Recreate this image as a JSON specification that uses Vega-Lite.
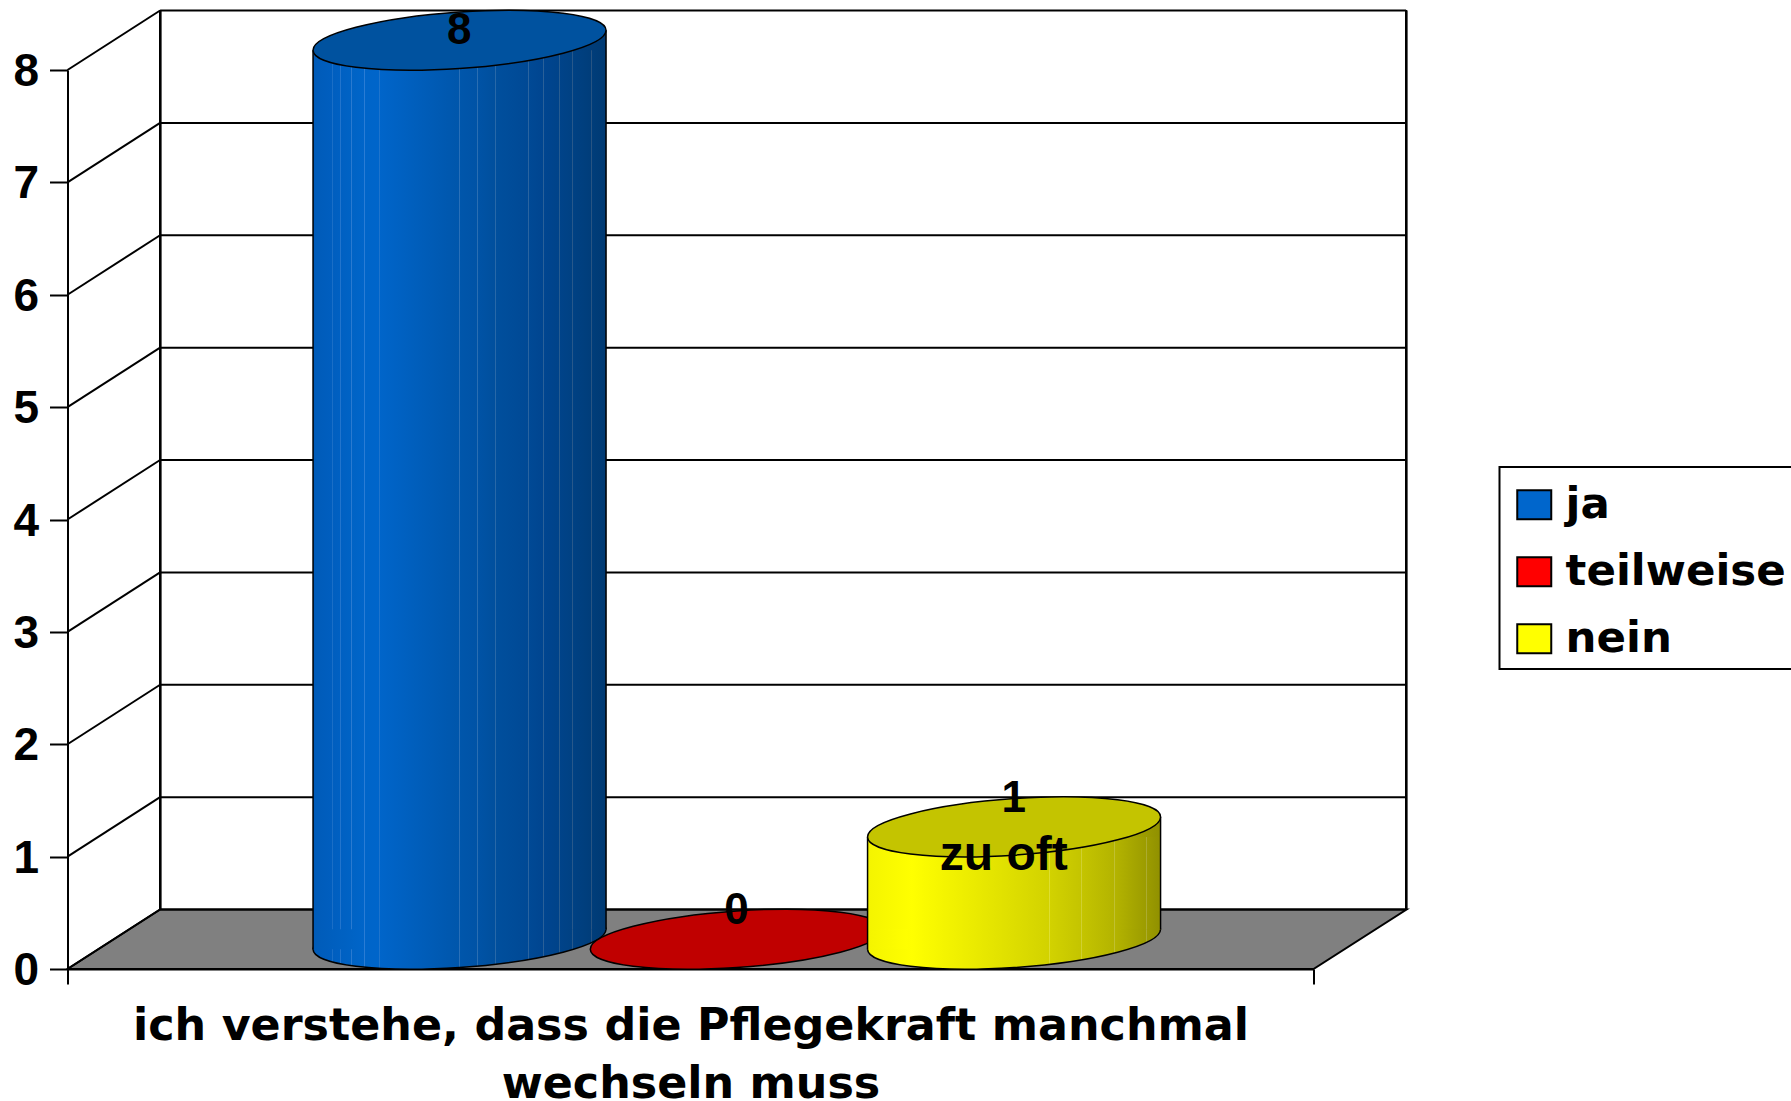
{
"$schema":"https://vega.github.io/schema/vega-lite/v6.json",
"autosize":{"type":"none"},
"width":1246,"height":899,
"padding":{"left":67.5,"top":70,"right":477.5,"bottom":132},
"background":"white",
"config":{"view":{"stroke":null},"legend":{"strokeWidth":2}},
"data":{"values":[{"antwort":"ja","wert":8},{"antwort":"teilweise","wert":0},{"antwort":"nein","wert":1,"anmerkung":"zu oft"}]},
"encoding":{"y":{"field":"wert","type":"quantitative","scale":{"domain":[0,8],"nice":false,"zero":false},"axis":{"title":null,"values":[0,1,2,3,4,5,6,7,8],"grid":false,"domainColor":"#000","domainWidth":2,"tickColor":"#000","tickWidth":2,"tickSize":18,"labelFont":"Liberation Sans","labelFontWeight":"bold","labelFontSize":46,"labelColor":"#000","labelPadding":11,"labelOffset":1.5}}},
"resolve":{"scale":{"x":"independent"},"axis":{"x":"independent"}},
"layer":[
{"data":{"values":[{"wert":0},{"wert":1},{"wert":2},{"wert":3},{"wert":4},{"wert":5},{"wert":6},{"wert":7},{"wert":8}]},
"encoding":{"x":{"datum":0,"type":"quantitative","scale":{"domain":[0,1],"nice":false,"zero":false},"axis":{"values":[0,1],"labels":false,"grid":false,"domainColor":"#000","domainWidth":2,"tickColor":"#000","tickWidth":2,"tickSize":15,"title":["ich verstehe, dass die Pflegekraft manchmal","wechseln muss"],"titleFont":"DejaVu Sans","titleFontWeight":"bold","titleFontSize":44.4,"titleColor":"#000","titleLineHeight":58,"titlePadding":19}}},
"layer":[
{"data":{"values":[{"wert":0}]},"mark":{"type":"point","shape":"M0 0 L1246 0 L1339 -59.5 L92.6 -59.5 Z","size":4,"filled":true,"fill":"#808080","stroke":"#000","strokeWidth":2,"opacity":1}},
{"mark":{"type":"rule","stroke":"#000","strokeWidth":2,"xOffset":0,"x2Offset":92.6,"y2Offset":-59.5},"encoding":{"x2":{"datum":0},"y2":{"field":"wert"}}},
{"mark":{"type":"rule","stroke":"#000","strokeWidth":2,"xOffset":92.6,"x2Offset":92.6,"yOffset":-59.5},"encoding":{"x2":{"datum":1}}},
{"mark":{"type":"rule","stroke":"#000","strokeWidth":2,"xOffset":92.6,"yOffset":-59.5,"y2Offset":-59.5},"encoding":{"y":{"datum":8},"y2":{"datum":0}}},
{"mark":{"type":"rule","stroke":"#000","strokeWidth":2,"xOffset":92.6,"yOffset":-59.5,"y2Offset":-59.5},"encoding":{"x":{"datum":1},"y":{"datum":8},"y2":{"datum":0}}}
]},
{"encoding":{"x":{"field":"antwort","type":"nominal","sort":null,"scale":{"type":"band","domain":["ja","teilweise","nein"],"paddingInner":0,"paddingOuter":0.747},"axis":null}},
"layer":[
{"transform":[{"filter":"datum.antwort==='ja'"}],"mark":{"type":"point","shape":"M146.5 -10 C146.5 5.6 80.9 22.8 0 28.3 C-80.9 33.8 -146.5 25.6 -146.5 10 C-146.5 -5.6 -80.9 -22.8 0 -28.3 C80.9 -33.8 146.5 -25.6 146.5 -10 Z","size":4,"filled":true,"opacity":1,"stroke":"#000","strokeWidth":1.5,"xOffset":46.3,"yOffset":-29.75,"fill":{"gradient":"linear","x1":0,"y1":0,"x2":1,"y2":0,"stops":[{"offset":0,"color":"#005bb8"},{"offset":0.064,"color":"#005ebf"},{"offset":0.064,"color":"#1a6ec6"},{"offset":0.067,"color":"#1a6ec6"},{"offset":0.067,"color":"#005ebf"},{"offset":0.092,"color":"#0060c2"},{"offset":0.092,"color":"#2274cc"},{"offset":0.095,"color":"#2274cc"},{"offset":0.095,"color":"#0060c2"},{"offset":0.131,"color":"#0063c5"},{"offset":0.131,"color":"#2a7ad0"},{"offset":0.134,"color":"#2a7ad0"},{"offset":0.134,"color":"#0063c5"},{"offset":0.173,"color":"#0065c9"},{"offset":0.173,"color":"#2a7cd4"},{"offset":0.176,"color":"#2a7cd4"},{"offset":0.176,"color":"#0065c9"},{"offset":0.225,"color":"#0065ca"},{"offset":0.225,"color":"#1f74cc"},{"offset":0.228,"color":"#1f74cc"},{"offset":0.228,"color":"#0065ca"},{"offset":0.498,"color":"#0056ab"},{"offset":0.498,"color":"#2a70b8"},{"offset":0.501,"color":"#2a70b8"},{"offset":0.501,"color":"#0056ab"},{"offset":0.56,"color":"#0053a6"},{"offset":0.56,"color":"#2a6eb2"},{"offset":0.563,"color":"#2a6eb2"},{"offset":0.563,"color":"#0053a6"},{"offset":0.621,"color":"#004f9d"},{"offset":0.621,"color":"#2768a8"},{"offset":0.624,"color":"#2768a8"},{"offset":0.624,"color":"#004f9d"},{"offset":0.734,"color":"#004995"},{"offset":0.734,"color":"#2a64a0"},{"offset":0.737,"color":"#2a64a0"},{"offset":0.737,"color":"#004995"},{"offset":0.786,"color":"#004590"},{"offset":0.786,"color":"#2a6098"},{"offset":0.789,"color":"#2a6098"},{"offset":0.789,"color":"#004590"},{"offset":0.84,"color":"#004389"},{"offset":0.84,"color":"#285c90"},{"offset":0.843,"color":"#285c90"},{"offset":0.843,"color":"#004389"},{"offset":0.885,"color":"#004183"},{"offset":0.885,"color":"#28588a"},{"offset":0.888,"color":"#28588a"},{"offset":0.888,"color":"#004183"},{"offset":0.95,"color":"#003d7a"},{"offset":0.95,"color":"#285482"},{"offset":0.953,"color":"#285482"},{"offset":0.953,"color":"#003d7a"},{"offset":1,"color":"#003a73"}]}},"encoding":{"y":{"datum":0}}},
{"transform":[{"filter":"datum.antwort==='ja'"}],"mark":{"type":"bar","size":40,"xOffset":-80.2,"yOffset":-19.75,"y2Offset":-19.75,"fill":{"gradient":"linear","x1":0,"y1":0,"x2":1,"y2":0,"stops":[{"offset":0,"color":"#005bb8"},{"offset":1,"color":"#0063c5"}]}},"encoding":{"y2":{"datum":0}}},
{"transform":[{"filter":"datum.antwort==='ja'"}],"mark":{"type":"bar","size":40,"xOffset":172.8,"yOffset":-39.75,"y2Offset":-39.75,"fill":{"gradient":"linear","x1":0,"y1":0,"x2":1,"y2":0,"stops":[{"offset":0,"color":"#004183"},{"offset":1,"color":"#003a73"}]}},"encoding":{"y2":{"datum":0}}},
{"transform":[{"filter":"datum.antwort==='ja'"}],"mark":{"type":"bar","size":293,"xOffset":46.3,"yOffset":-19.75,"y2Offset":-39.75,"fill":{"gradient":"linear","x1":0,"y1":0,"x2":1,"y2":0,"stops":[{"offset":0,"color":"#005bb8"},{"offset":0.064,"color":"#005ebf"},{"offset":0.064,"color":"#1a6ec6"},{"offset":0.067,"color":"#1a6ec6"},{"offset":0.067,"color":"#005ebf"},{"offset":0.092,"color":"#0060c2"},{"offset":0.092,"color":"#2274cc"},{"offset":0.095,"color":"#2274cc"},{"offset":0.095,"color":"#0060c2"},{"offset":0.131,"color":"#0063c5"},{"offset":0.131,"color":"#2a7ad0"},{"offset":0.134,"color":"#2a7ad0"},{"offset":0.134,"color":"#0063c5"},{"offset":0.173,"color":"#0065c9"},{"offset":0.173,"color":"#2a7cd4"},{"offset":0.176,"color":"#2a7cd4"},{"offset":0.176,"color":"#0065c9"},{"offset":0.225,"color":"#0065ca"},{"offset":0.225,"color":"#1f74cc"},{"offset":0.228,"color":"#1f74cc"},{"offset":0.228,"color":"#0065ca"},{"offset":0.498,"color":"#0056ab"},{"offset":0.498,"color":"#2a70b8"},{"offset":0.501,"color":"#2a70b8"},{"offset":0.501,"color":"#0056ab"},{"offset":0.56,"color":"#0053a6"},{"offset":0.56,"color":"#2a6eb2"},{"offset":0.563,"color":"#2a6eb2"},{"offset":0.563,"color":"#0053a6"},{"offset":0.621,"color":"#004f9d"},{"offset":0.621,"color":"#2768a8"},{"offset":0.624,"color":"#2768a8"},{"offset":0.624,"color":"#004f9d"},{"offset":0.734,"color":"#004995"},{"offset":0.734,"color":"#2a64a0"},{"offset":0.737,"color":"#2a64a0"},{"offset":0.737,"color":"#004995"},{"offset":0.786,"color":"#004590"},{"offset":0.786,"color":"#2a6098"},{"offset":0.789,"color":"#2a6098"},{"offset":0.789,"color":"#004590"},{"offset":0.84,"color":"#004389"},{"offset":0.84,"color":"#285c90"},{"offset":0.843,"color":"#285c90"},{"offset":0.843,"color":"#004389"},{"offset":0.885,"color":"#004183"},{"offset":0.885,"color":"#28588a"},{"offset":0.888,"color":"#28588a"},{"offset":0.888,"color":"#004183"},{"offset":0.95,"color":"#003d7a"},{"offset":0.95,"color":"#285482"},{"offset":0.953,"color":"#285482"},{"offset":0.953,"color":"#003d7a"},{"offset":1,"color":"#003a73"}]}},"encoding":{"y2":{"datum":0}}},
{"transform":[{"filter":"datum.antwort==='ja'"}],"mark":{"type":"rule","stroke":"#000","strokeWidth":1.5,"xOffset":-100.2,"yOffset":-19.75,"y2Offset":-19.75},"encoding":{"y2":{"datum":0}}},
{"transform":[{"filter":"datum.antwort==='ja'"}],"mark":{"type":"rule","stroke":"#000","strokeWidth":1.5,"xOffset":192.8,"yOffset":-39.75,"y2Offset":-39.75},"encoding":{"y2":{"datum":0}}},
{"transform":[{"filter":"datum.antwort==='ja'"}],"mark":{"type":"point","shape":"M146.5 -10 C146.5 5.6 80.9 22.8 0 28.3 C-80.9 33.8 -146.5 25.6 -146.5 10 C-146.5 -5.6 -80.9 -22.8 0 -28.3 C80.9 -33.8 146.5 -25.6 146.5 -10 Z","size":4,"filled":true,"opacity":1,"stroke":"#000","strokeWidth":1.5,"xOffset":46.3,"yOffset":-29.75,"fill":"#00529f"}},
{"transform":[{"filter":"datum.antwort==='teilweise'"}],"mark":{"type":"point","shape":"M146.5 -10 C146.5 5.6 80.9 22.8 0 28.3 C-80.9 33.8 -146.5 25.6 -146.5 10 C-146.5 -5.6 -80.9 -22.8 0 -28.3 C80.9 -33.8 146.5 -25.6 146.5 -10 Z","size":4,"filled":true,"opacity":1,"stroke":"#000","strokeWidth":1.5,"xOffset":46.3,"yOffset":-29.75,"fill":"#c00000"}},
{"transform":[{"filter":"datum.antwort==='nein'"}],"mark":{"type":"point","shape":"M146.5 -10 C146.5 5.6 80.9 22.8 0 28.3 C-80.9 33.8 -146.5 25.6 -146.5 10 C-146.5 -5.6 -80.9 -22.8 0 -28.3 C80.9 -33.8 146.5 -25.6 146.5 -10 Z","size":4,"filled":true,"opacity":1,"stroke":"#000","strokeWidth":1.5,"xOffset":46.3,"yOffset":-29.75,"fill":{"gradient":"linear","x1":0,"y1":0,"x2":1,"y2":0,"stops":[{"offset":0,"color":"#f4f400"},{"offset":0.15,"color":"#ffff00"},{"offset":0.6,"color":"#d4d400"},{"offset":0.62,"color":"#d2d200"},{"offset":0.62,"color":"#dede30"},{"offset":0.623,"color":"#dede30"},{"offset":0.623,"color":"#d2d200"},{"offset":0.73,"color":"#c4c400"},{"offset":0.73,"color":"#d0d030"},{"offset":0.733,"color":"#d0d030"},{"offset":0.733,"color":"#c4c400"},{"offset":0.84,"color":"#b4b400"},{"offset":0.84,"color":"#c0c030"},{"offset":0.843,"color":"#c0c030"},{"offset":0.843,"color":"#b4b400"},{"offset":0.95,"color":"#9c9c00"},{"offset":0.95,"color":"#abab30"},{"offset":0.953,"color":"#abab30"},{"offset":0.953,"color":"#9c9c00"},{"offset":1,"color":"#909000"}]}},"encoding":{"y":{"datum":0}}},
{"transform":[{"filter":"datum.antwort==='nein'"}],"mark":{"type":"bar","size":40,"xOffset":-80.2,"yOffset":-19.75,"y2Offset":-19.75,"fill":{"gradient":"linear","x1":0,"y1":0,"x2":1,"y2":0,"stops":[{"offset":0,"color":"#f4f400"},{"offset":1,"color":"#ffff00"}]}},"encoding":{"y2":{"datum":0}}},
{"transform":[{"filter":"datum.antwort==='nein'"}],"mark":{"type":"bar","size":40,"xOffset":172.8,"yOffset":-39.75,"y2Offset":-39.75,"fill":{"gradient":"linear","x1":0,"y1":0,"x2":1,"y2":0,"stops":[{"offset":0,"color":"#acac00"},{"offset":1,"color":"#909000"}]}},"encoding":{"y2":{"datum":0}}},
{"transform":[{"filter":"datum.antwort==='nein'"}],"mark":{"type":"bar","size":293,"xOffset":46.3,"yOffset":-19.75,"y2Offset":-39.75,"fill":{"gradient":"linear","x1":0,"y1":0,"x2":1,"y2":0,"stops":[{"offset":0,"color":"#f4f400"},{"offset":0.15,"color":"#ffff00"},{"offset":0.6,"color":"#d4d400"},{"offset":0.62,"color":"#d2d200"},{"offset":0.62,"color":"#dede30"},{"offset":0.623,"color":"#dede30"},{"offset":0.623,"color":"#d2d200"},{"offset":0.73,"color":"#c4c400"},{"offset":0.73,"color":"#d0d030"},{"offset":0.733,"color":"#d0d030"},{"offset":0.733,"color":"#c4c400"},{"offset":0.84,"color":"#b4b400"},{"offset":0.84,"color":"#c0c030"},{"offset":0.843,"color":"#c0c030"},{"offset":0.843,"color":"#b4b400"},{"offset":0.95,"color":"#9c9c00"},{"offset":0.95,"color":"#abab30"},{"offset":0.953,"color":"#abab30"},{"offset":0.953,"color":"#9c9c00"},{"offset":1,"color":"#909000"}]}},"encoding":{"y2":{"datum":0}}},
{"transform":[{"filter":"datum.antwort==='nein'"}],"mark":{"type":"rule","stroke":"#000","strokeWidth":1.5,"xOffset":-100.2,"yOffset":-19.75,"y2Offset":-19.75},"encoding":{"y2":{"datum":0}}},
{"transform":[{"filter":"datum.antwort==='nein'"}],"mark":{"type":"rule","stroke":"#000","strokeWidth":1.5,"xOffset":192.8,"yOffset":-39.75,"y2Offset":-39.75},"encoding":{"y2":{"datum":0}}},
{"transform":[{"filter":"datum.antwort==='nein'"}],"mark":{"type":"point","shape":"M146.5 -10 C146.5 5.6 80.9 22.8 0 28.3 C-80.9 33.8 -146.5 25.6 -146.5 10 C-146.5 -5.6 -80.9 -22.8 0 -28.3 C80.9 -33.8 146.5 -25.6 146.5 -10 Z","size":4,"filled":true,"opacity":1,"stroke":"#000","strokeWidth":1.5,"xOffset":46.3,"yOffset":-29.75,"fill":"#c4c400"}},
{"transform":[{"filter":"datum.antwort==='ja'"}],"mark":{"type":"text","font":"Liberation Sans","fontWeight":"bold","fontSize":44,"fill":"#000","xOffset":46,"dy":-39,"baseline":"middle","align":"center"},"encoding":{"text":{"field":"wert","type":"quantitative"}}},
{"transform":[{"filter":"datum.antwort!=='ja'"}],"mark":{"type":"text","font":"Liberation Sans","fontWeight":"bold","fontSize":44,"fill":"#000","xOffset":46,"dy":-58,"baseline":"middle","align":"center"},"encoding":{"text":{"field":"wert","type":"quantitative"}}},
{"transform":[{"filter":"datum.anmerkung"}],"mark":{"type":"text","font":"Liberation Sans","fontWeight":"bold","fontSize":48,"fill":"#000","xOffset":36,"dy":-1,"baseline":"middle","align":"center"},"encoding":{"text":{"field":"anmerkung"}}},
{"mark":{"type":"point","filled":true,"opacity":0,"size":4},"encoding":{"color":{"field":"antwort","type":"nominal","scale":{"domain":["ja","teilweise","nein"],"range":["#0066cc","#ff0000","#ffff00"]},"legend":{"title":" ","titleFontSize":1,"titlePadding":7,"orient":"none","legendX":1432,"legendY":397,"fillColor":"white","strokeColor":"#000","padding":8,"symbolType":"M-12 -14.5 H22 V14.5 H-12 Z","symbolSize":4,"symbolOpacity":1,"symbolStrokeColor":"#000","symbolStrokeWidth":2,"symbolOffset":0,"labelFont":"DejaVu Sans","labelFontWeight":"bold","labelFontSize":43.5,"labelColor":"#000","labelOffset":14.6,"labelLimit":500,"rowPadding":22}}}}
]}
]}
